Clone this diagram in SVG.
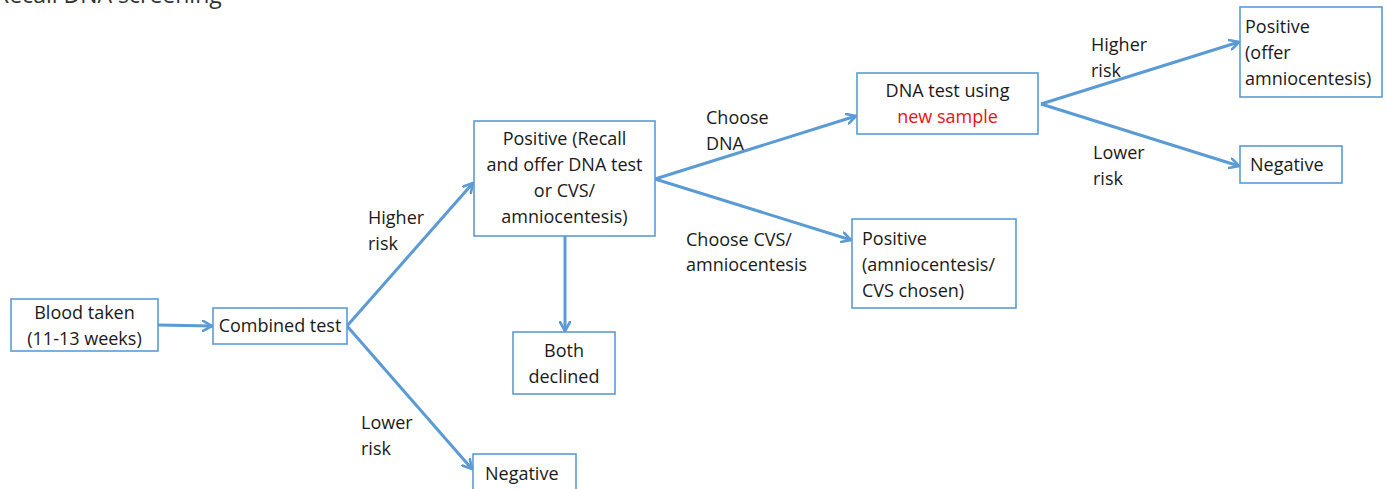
<svg xmlns="http://www.w3.org/2000/svg" width="1387" height="489" viewBox="0 0 1387 489">
<defs>
<marker id="arr" viewBox="0 0 12 12" refX="10" refY="6" markerWidth="12" markerHeight="12" markerUnits="userSpaceOnUse" orient="auto">
<path d="M1,1 L10,6 L1,11" fill="none" stroke="#5b9bd5" stroke-width="2.6" stroke-linecap="round" stroke-linejoin="round"/>
</marker>
<style>
.box{fill:#fff;stroke:#5b9bd5;stroke-width:1.6}
.t{font-family:"Open Sans","Noto Sans",sans-serif;font-size:18px;fill:#1a1a1a}
.c{text-anchor:middle}
.red{fill:#ee1111}
.con{fill:none;stroke:#5b9bd5;stroke-width:3;marker-end:url(#arr)}
</style>
</defs>
<rect width="1387" height="489" fill="#fff"/>
<text class="t" x="-5" y="2.5" style="font-size:23px;fill:#333">Recall DNA screening</text>
<g id="connectors">
<line class="con" x1="158" y1="325" x2="212" y2="326"/>
<line class="con" x1="347" y1="326" x2="473" y2="183"/>
<line class="con" x1="347" y1="326" x2="472" y2="469"/>
<line class="con" x1="565" y1="236" x2="565" y2="331"/>
<line class="con" x1="655" y1="179" x2="856" y2="116"/>
<line class="con" x1="655" y1="179" x2="851" y2="240"/>
<line class="con" x1="1041" y1="104" x2="1239" y2="42"/>
<line class="con" x1="1041" y1="104" x2="1239" y2="166"/>
</g>
<g id="blood"><rect class="box" x="11" y="299" width="147" height="52"/>
<text class="t c" x="84.5" y="319">Blood taken</text><text class="t c" x="84.5" y="345">(11-13 weeks)</text></g>
<g id="combined"><rect class="box" x="213" y="308" width="134" height="36"/>
<text class="t c" x="280" y="332">Combined test</text></g>
<g id="recall"><rect class="box" x="474" y="121" width="181" height="115"/>
<text class="t c" x="564.5" y="145">Positive (Recall</text><text class="t c" x="564.5" y="171">and offer DNA test</text><text class="t c" x="564.5" y="197">or CVS/</text><text class="t c" x="564.5" y="223">amniocentesis)</text></g>
<g id="declined"><rect class="box" x="513" y="332" width="102" height="62"/>
<text class="t c" x="564" y="357">Both</text><text class="t c" x="564" y="383">declined</text></g>
<g id="negative1"><rect class="box" x="473" y="454" width="103" height="40"/>
<text class="t" x="485" y="480">Negative</text></g>
<g id="dnatest"><rect class="box" x="857" y="73" width="181" height="61"/>
<text class="t c" x="947.5" y="97">DNA test using</text><text class="t c red" x="947.5" y="123">new sample</text></g>
<g id="cvs"><rect class="box" x="852" y="219" width="164" height="89"/>
<text class="t" x="862" y="245">Positive</text><text class="t" x="862" y="271">(amniocentesis/</text><text class="t" x="862" y="297">CVS chosen)</text></g>
<g id="offer"><rect class="box" x="1240" y="7" width="142" height="90"/>
<text class="t" x="1245" y="33">Positive</text><text class="t" x="1245" y="59">(offer</text><text class="t" x="1245" y="85">amniocentesis)</text></g>
<g id="negative2"><rect class="box" x="1240" y="146" width="102" height="37"/>
<text class="t" x="1250" y="171">Negative</text></g>
<g id="labels">
<text class="t" x="368" y="224">Higher</text><text class="t" x="368" y="250">risk</text>
<text class="t" x="361" y="429">Lower</text><text class="t" x="361" y="455">risk</text>
<text class="t" x="706" y="124">Choose</text><text class="t" x="706" y="150">DNA</text>
<text class="t" x="686" y="246">Choose CVS/</text><text class="t" x="686" y="271">amniocentesis</text>
<text class="t" x="1091" y="51">Higher</text><text class="t" x="1091" y="77">risk</text>
<text class="t" x="1093" y="159">Lower</text><text class="t" x="1093" y="185">risk</text>
</g>
</svg>
